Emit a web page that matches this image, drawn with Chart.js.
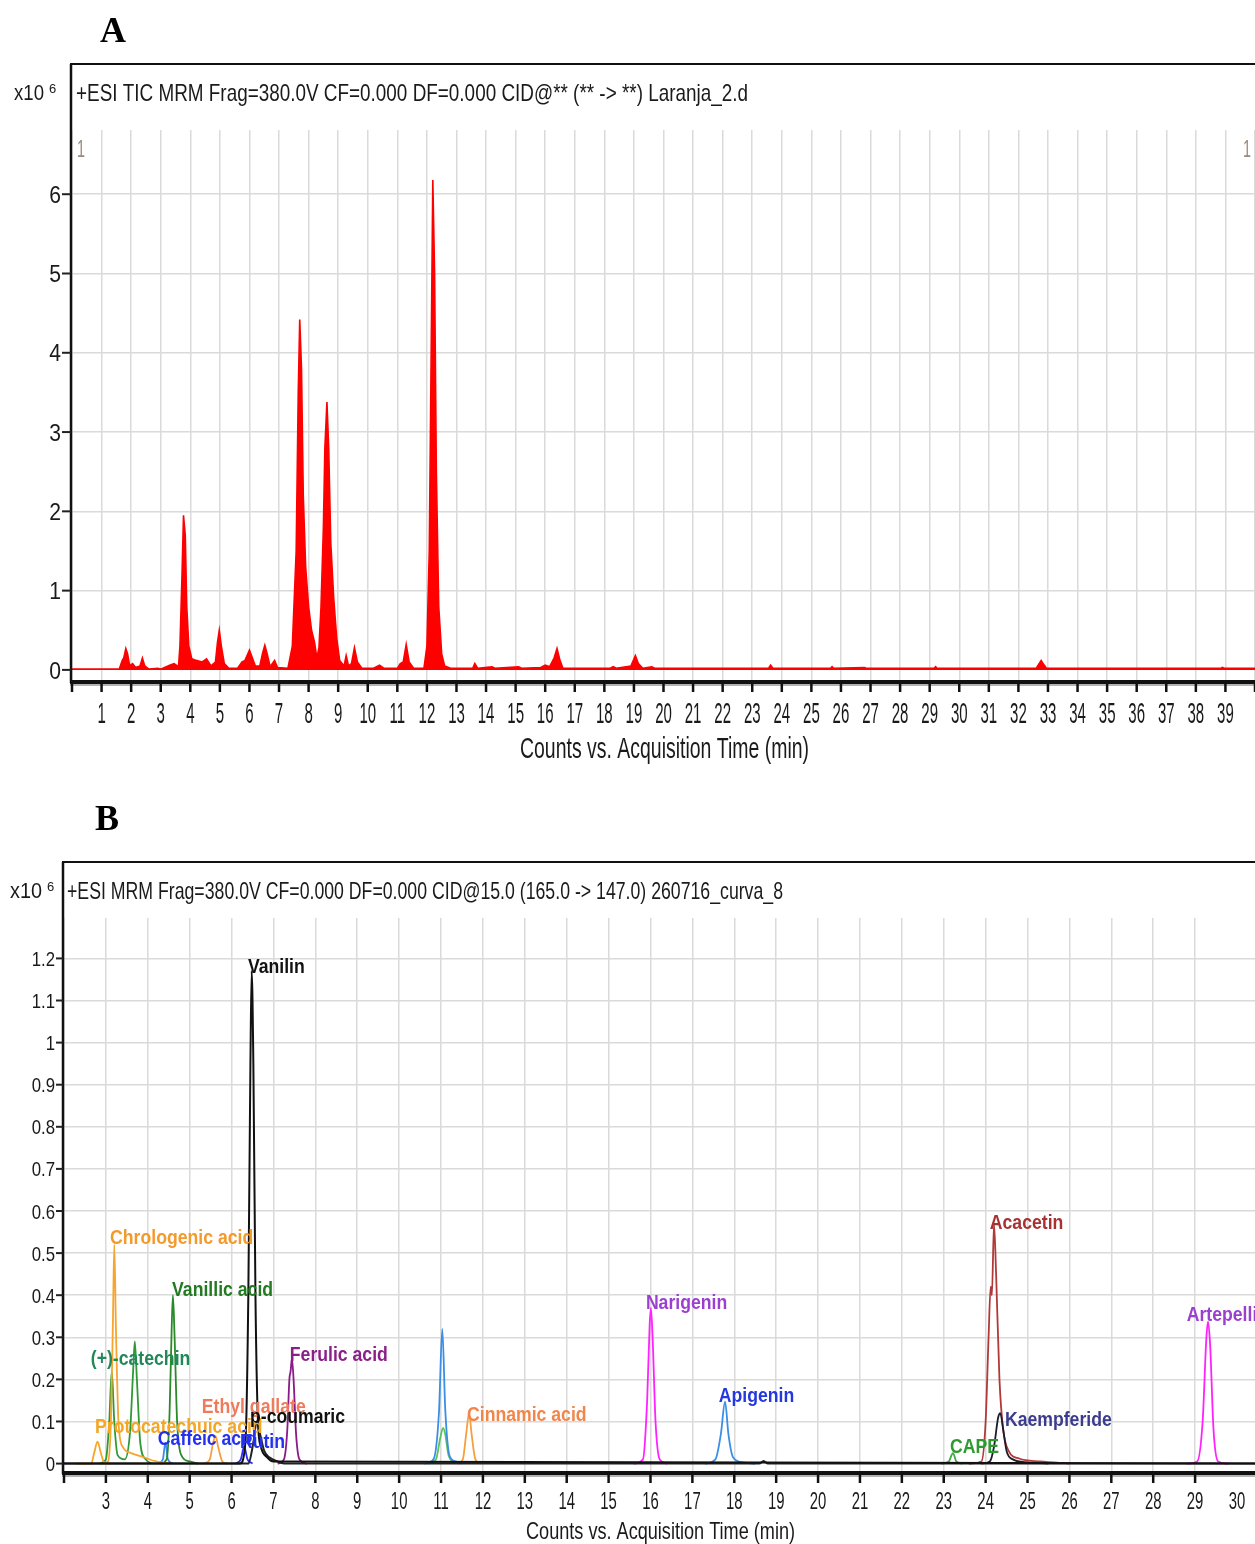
<!DOCTYPE html>
<html>
<head>
<meta charset="utf-8">
<script src="https://cdn.jsdelivr.net/npm/chart.js@4.4.1/dist/chart.umd.min.js"></script>
<style>
  html, body { margin: 0; padding: 0; background: #fff; }
  body { width: 1255px; height: 1544px; position: relative; overflow: hidden; }
  canvas { position: absolute; left: 0; }
  #chartA { top: 0; }
  #chartB { top: 780px; }
</style>
</head>
<body>
<canvas id="chartA" width="1255" height="780"></canvas>
<canvas id="chartB" width="1255" height="764"></canvas>
<script>
// ---- data: panel A (TIC, x10^6 counts vs min) ----
const ticPoints = [
  [0, 0.01], [1.6, 0.01], [1.7, 0.12], [1.75, 0.15], [1.82, 0.27], [1.88, 0.2], [1.95, 0.05],
  [2.05, 0.08], [2.15, 0.03], [2.3, 0.05], [2.38, 0.15], [2.46, 0.05], [2.6, 0.01], [2.9, 0.02],
  [3.0, 0.01], [3.3, 0.06], [3.45, 0.08], [3.6, 0.04], [3.65, 0.3], [3.72, 1.2], [3.77, 1.95],
  [3.83, 1.7], [3.88, 0.8], [3.95, 0.3], [4.05, 0.14], [4.2, 0.12], [4.4, 0.1], [4.55, 0.14],
  [4.7, 0.05], [4.85, 0.1], [4.92, 0.35], [4.98, 0.5], [5.05, 0.3], [5.15, 0.08], [5.3, 0.02],
  [5.6, 0.02], [5.75, 0.1], [5.85, 0.12], [6.0, 0.25], [6.1, 0.15], [6.2, 0.05], [6.35, 0.05],
  [6.45, 0.22], [6.52, 0.31], [6.6, 0.2], [6.7, 0.04], [6.85, 0.12], [6.95, 0.03], [7.3, 0.02],
  [7.45, 0.3], [7.58, 1.5], [7.65, 3.5], [7.7, 4.42], [7.76, 3.8], [7.82, 2.2], [7.9, 1.3],
  [8.0, 0.8], [8.1, 0.5], [8.2, 0.35], [8.28, 0.15], [8.35, 0.28], [8.42, 0.8], [8.5, 1.8],
  [8.55, 2.8], [8.62, 3.38], [8.68, 2.8], [8.75, 1.6], [8.85, 0.9], [8.95, 0.4], [9.05, 0.12],
  [9.2, 0.05], [9.27, 0.18], [9.35, 0.05], [9.45, 0.08], [9.55, 0.28], [9.65, 0.1], [9.8, 0.02],
  [10.2, 0.02], [10.4, 0.06], [10.55, 0.02], [11.0, 0.02], [11.1, 0.08], [11.2, 0.1], [11.3, 0.32],
  [11.4, 0.1], [11.55, 0.02], [11.9, 0.02], [12.0, 0.3], [12.08, 1.5], [12.15, 4.2], [12.2, 6.18],
  [12.26, 5.0], [12.32, 2.5], [12.4, 0.8], [12.5, 0.2], [12.6, 0.05], [12.8, 0.02], [13.55, 0.02],
  [13.62, 0.08], [13.72, 0.02], [14.2, 0.04], [14.3, 0.02], [15.1, 0.04], [15.2, 0.02], [15.85, 0.03],
  [16.0, 0.06], [16.15, 0.04], [16.3, 0.15], [16.4, 0.27], [16.5, 0.12], [16.6, 0.02], [18.2, 0.02],
  [18.3, 0.04], [18.4, 0.02], [18.9, 0.05], [19.05, 0.18], [19.15, 0.08], [19.3, 0.02], [19.6, 0.04],
  [19.7, 0.02], [23.55, 0.02], [23.62, 0.06], [23.7, 0.02], [25.65, 0.02], [25.7, 0.04], [25.75, 0.02],
  [26.8, 0.03], [26.85, 0.02], [29.15, 0.02], [29.2, 0.04], [29.25, 0.02], [32.6, 0.02], [32.7, 0.08],
  [32.77, 0.12], [32.85, 0.07], [32.95, 0.02], [38.85, 0.02], [38.9, 0.03], [38.95, 0.02], [40, 0.02]
]
const xTicksA = [1, 2, 3, 4, 5, 6, 7, 8, 9, 10, 11, 12, 13, 14, 15, 16, 17, 18, 19, 20,
  21, 22, 23, 24, 25, 26, 27, 28, 29, 30, 31, 32, 33, 34, 35, 36, 37, 38, 39]
const yTicksA = [0, 1, 2, 3, 4, 5, 6]

// ---- data: panel B (MRM standards) ----
const vanilinPts = [[2, 0], [6.2, 0], [6.33, 0.05], [6.4, 0.4], [6.45, 0.95], [6.48, 1.17], [6.52, 0.95],
  [6.57, 0.4], [6.63, 0.1], [6.7, 0.04], [6.85, 0.015], [7.0, 0.005], [30.43, 0]]
const coumaricPts = [[2, 0], [6.4, 0], [6.52, 0.05], [6.6, 0.1], [6.68, 0.07], [6.78, 0.03], [6.9, 0.015],
  [7.1, 0.005], [7.3, 0], [18.6, 0], [18.7, 0.006], [18.8, 0], [30.43, 0]]
const kaempferidePts = [[23.9, 0], [24.1, 0.005], [24.2, 0.04], [24.3, 0.11], [24.35, 0.12], [24.42, 0.08],
  [24.5, 0.03], [24.65, 0.01], [25.0, 0.003], [25.5, 0]]
const protocatechuicPts = [[2.3, 0], [2.65, 0], [2.72, 0.025], [2.8, 0.052], [2.88, 0.025], [2.96, 0.003], [3.1, 0]]
const chrologenicPts = [[2.9, 0], [3.05, 0.005], [3.12, 0.1], [3.17, 0.35], [3.2, 0.52], [3.24, 0.32], [3.3, 0.1],
  [3.4, 0.04], [3.6, 0.025], [3.9, 0.015], [4.2, 0.005], [4.5, 0]]
const catechinPts = [[2.85, 0], [3.0, 0.01], [3.08, 0.1], [3.14, 0.22], [3.2, 0.1], [3.28, 0.02], [3.45, 0.01],
  [3.58, 0.08], [3.65, 0.22], [3.69, 0.29], [3.74, 0.2], [3.82, 0.05], [3.95, 0.01], [4.1, 0]]
const vanillicPts = [[4.3, 0], [4.45, 0.01], [4.52, 0.12], [4.57, 0.32], [4.6, 0.4], [4.64, 0.3], [4.7, 0.1],
  [4.8, 0.02], [5.0, 0.005], [5.2, 0]]
const caffeicPts = [[4.25, 0], [4.36, 0.01], [4.42, 0.05], [4.48, 0.01], [4.6, 0]]
const ethylGallatePts = [[5.35, 0], [5.48, 0.01], [5.56, 0.05], [5.62, 0.065], [5.68, 0.04], [5.78, 0.005], [5.9, 0]]
const rutinPts = [[6.1, 0], [6.22, 0.01], [6.3, 0.04], [6.38, 0.01], [6.5, 0]]
const ferulicPts = [[7.1, 0], [7.25, 0.01], [7.33, 0.08], [7.38, 0.2], [7.41, 0.22], [7.44, 0.25], [7.48, 0.2],
  [7.54, 0.07], [7.62, 0.01], [7.8, 0]]
const unknownBluePts = [[10.6, 0], [10.82, 0.01], [10.95, 0.12], [11.03, 0.32], [11.1, 0.13], [11.2, 0.02],
  [11.35, 0.005], [11.5, 0]]
const unknownGreenPts = [[10.7, 0], [10.88, 0.01], [10.98, 0.06], [11.05, 0.085], [11.1, 0.07], [11.18, 0.02], [11.35, 0]]
const cinnamicPts = [[11.4, 0], [11.52, 0.01], [11.6, 0.07], [11.67, 0.12], [11.73, 0.07], [11.82, 0.01], [11.95, 0]]
const narigeninPts = [[15.6, 0], [15.82, 0.01], [15.92, 0.15], [15.98, 0.33], [16.01, 0.37], [16.05, 0.3],
  [16.12, 0.1], [16.22, 0.01], [16.4, 0]]
const apigeninPts = [[17.3, 0], [17.55, 0.01], [17.68, 0.07], [17.78, 0.147], [17.86, 0.07], [17.97, 0.015],
  [18.2, 0.003], [18.5, 0]]
const capePts = [[22.95, 0], [23.12, 0.005], [23.22, 0.025], [23.3, 0.005], [23.45, 0]]
const acacetinPts = [[23.6, 0], [23.9, 0.005], [24.0, 0.1], [24.07, 0.3], [24.12, 0.42], [24.15, 0.4], [24.2, 0.57],
  [24.25, 0.45], [24.33, 0.2], [24.42, 0.08], [24.55, 0.03], [24.8, 0.012], [25.3, 0.005], [26.0, 0]]
const artepillinPts = [[28.8, 0], [29.05, 0.005], [29.18, 0.1], [29.27, 0.3], [29.31, 0.337], [29.36, 0.28],
  [29.44, 0.08], [29.55, 0.005], [29.8, 0]]

const xTicksB = [3, 4, 5, 6, 7, 8, 9, 10, 11, 12, 13, 14, 15, 16, 17, 18, 19, 20,
  21, 22, 23, 24, 25, 26, 27, 28, 29, 30]
const yTicksB = [0, 0.1, 0.2, 0.3, 0.4, 0.5, 0.6, 0.7, 0.8, 0.9, 1, 1.1, 1.2]

// peak names, anchored at (time, height) of the text's left/middle
const peakLabels = [
  ['Vanilin', 6.39, 1.182, '#111111'],
  ['Chrologenic acid', 3.10, 0.540, '#f39a2c'],
  ['Vanillic acid', 4.58, 0.417, '#237a23'],
  ['(+)-catechin', 2.64, 0.253, '#23875a'],
  ['Ferulic acid', 7.39, 0.262, '#8a1f8a'],
  ['Ethyl gallate', 5.29, 0.137, '#f07a5c'],
  ['Protocatechuic acid', 2.74, 0.091, '#f5a623'],
  ['p-coumaric', 6.44, 0.115, '#111111'],
  ['Caffeic acid', 4.24, 0.063, '#2430f0'],
  ['Rutin', 6.20, 0.056, '#2430f0'],
  ['Cinnamic acid', 11.62, 0.120, '#f2854a'],
  ['Narigenin', 15.89, 0.384, '#9b3fd0'],
  ['Apigenin', 17.63, 0.165, '#2438e0'],
  ['CAPE', 23.15, 0.042, '#2f9a2f'],
  ['Acacetin', 24.10, 0.574, '#a83232'],
  ['Kaempferide', 24.46, 0.106, '#3c3c8e'],
  ['Artepellin C', 28.80, 0.357, '#9b3fd0']
]

const SANS = '"Liberation Sans", Arial, sans-serif'
const SERIF = '"Liberation Serif", "Times New Roman", serif'
const GRID = '#dadada'

const toXY = pts => pts.map(p => ({ x: p[0], y: p[1] }))

// draw text, optionally squeezed horizontally (sx) or fitted to a width
function drawText(ctx, text, px, py, o) {
  ctx.save()
  ctx.font = (o.bold ? 'bold ' : '') + o.size + 'px ' + (o.family || SANS)
  const raw = ctx.measureText(text).width
  const sx = o.width ? o.width / raw : (o.sx || 1)
  const w = raw * sx
  let left = px
  if (o.align === 'center') left = px - w / 2
  if (o.align === 'right') left = px - w
  ctx.translate(left, py)
  ctx.scale(sx, 1)
  ctx.fillStyle = o.color || '#1a1a1a'
  ctx.textAlign = 'left'
  ctx.textBaseline = 'alphabetic'
  ctx.fillText(text, 0, 0)
  ctx.restore()
}

function line(ctx, x1, y1, x2, y2, w, color) {
  ctx.beginPath()
  ctx.moveTo(x1, y1)
  ctx.lineTo(x2, y2)
  ctx.lineWidth = w
  ctx.strokeStyle = color
  ctx.stroke()
}

const decor = {
  id: 'decor',
  afterDraw(chart, args, d) {
    const { ctx, chartArea: a, scales: { x, y } } = chart
    ctx.save()
    // panel letter
    drawText(ctx, d.letter[0], d.letter[1], d.letter[2], { size: 36, bold: true, family: SERIF, color: '#000' })
    // frame
    line(ctx, d.frameLeft - 1, d.frameTop, a.right, d.frameTop, 2, '#111')
    line(ctx, d.frameLeft, d.frameTop, d.frameLeft, a.bottom + 2, 2.5, '#111')
    // x axis
    line(ctx, d.frameLeft - 1, a.bottom + 1, a.right, a.bottom + 1, 4, '#111')
    line(ctx, d.frameLeft - 1, a.bottom + 4, a.right, a.bottom + 4, 1.5, '#9a9a9a')
    // title row
    drawText(ctx, 'x10', d.x10[0], d.x10[1], { size: d.x10[2], width: d.x10[3] })
    drawText(ctx, '6', d.x10[0] + d.x10[3] + 5, d.x10[1] - 7, { size: 13 })
    drawText(ctx, d.title, d.titlePos[0], d.titlePos[1], { size: d.titlePos[2], width: d.titlePos[3] })
    if (d.ones) {
      drawText(ctx, '1', a.left + 5, a.top + 27, { size: 24, sx: 0.6, color: '#9a8878' })
      drawText(ctx, '1', a.right - 12, a.top + 27, { size: 24, sx: 0.6, color: '#9a8878' })
    }
    // y ticks + labels
    d.yTicks.forEach(v => {
      const py = y.getPixelForValue(v)
      line(ctx, d.yLab[0] + 1, py, d.frameLeft, py, 2, '#222')
      drawText(ctx, String(v), d.yLab[0], py + d.yLab[1] * 0.36, { size: d.yLab[1], sx: d.yLab[2], align: 'right' })
    })
    // x ticks + labels
    x.ticks.forEach(t => {
      if (!Number.isInteger(t.value)) return
      const px = x.getPixelForValue(t.value)
      if (px < a.left + 2 && t.value !== d.xMin) return
      line(ctx, px, a.bottom + 3, px, a.bottom + 11, 2.5, '#111')
    })
    d.xTicks.forEach(v => {
      const px = x.getPixelForValue(v)
      drawText(ctx, String(v), px, d.xLab[0], { size: d.xLab[1], sx: d.xLab[2], align: 'center' })
    })
    drawText(ctx, 'Counts vs. Acquisition Time (min)', d.xTitle[0], d.xTitle[1], { size: d.xTitle[2], width: d.xTitle[3] })
    // peak names
    ;(d.labels || []).forEach(l => {
      const px = x.getPixelForValue(l[1])
      const py = y.getPixelForValue(l[2])
      drawText(ctx, l[0], px, py + 7.5, { size: 21, bold: true, sx: 0.84, color: l[3] })
    })
    ctx.restore()
  }
}

const gridColor = step => c => {
  const v = c.tick.value / step
  return Math.abs(v - Math.round(v)) < 1e-6 && c.tick.value > -1e-9 ? GRID : 'rgba(0,0,0,0)'
}

function baseOptions(o) {
  return {
    responsive: false,
    animation: false,
    devicePixelRatio: 1,
    layout: { padding: { top: o.top, left: 0, right: 0, bottom: 0 } },
    elements: { point: { radius: 0 } },
    plugins: { legend: { display: false }, tooltip: { enabled: false }, decor: o.decor },
    scales: {
      x: {
        type: 'linear', min: o.xMin, max: o.xMax,
        ticks: { stepSize: 1, display: false },
        grid: { color: gridColor(1), lineWidth: 1.5, drawTicks: false },
        border: { display: false },
        afterFit: s => { s.height = o.bottomH }
      },
      y: {
        type: 'linear', min: o.yMin, max: o.yMax,
        ticks: { stepSize: o.yStep, display: false },
        grid: { color: gridColor(o.yStep), lineWidth: 1.5, drawTicks: false },
        border: { display: false },
        afterFit: s => { s.width = o.leftW }
      }
    }
  }
}

new Chart(document.getElementById('chartA'), {
  type: 'line',
  data: {
    datasets: [{
      data: toXY(ticPoints),
      borderColor: '#ff0000',
      backgroundColor: '#ff0000',
      borderWidth: 1.6,
      fill: 'origin',
      tension: 0
    }]
  },
  options: baseOptions({
    top: 130, leftW: 72, bottomH: 99,
    xMin: 0, xMax: 40, yMin: -0.14, yMax: 6.81, yStep: 1,
    decor: {
      letter: ['A', 100, 42],
      frameTop: 64, frameLeft: 71, xMin: 0,
      x10: [14, 100, 22, 30],
      title: '+ESI TIC MRM Frag=380.0V CF=0.000 DF=0.000 CID@** (** -> **) Laranja_2.d',
      titlePos: [76, 101, 24, 672],
      ones: true,
      yTicks: yTicksA, yLab: [61, 24, 0.88],
      xTicks: xTicksA, xLab: [723, 30, 0.5],
      xTitle: [520, 758, 30, 289]
    }
  }),
  plugins: [decor]
})

const traces = [
  [vanilinPts, '#111111', 2],
  [coumaricPts, '#222222', 2],
  [kaempferidePts, '#1c1c2c', 1.8],
  [protocatechuicPts, '#f5a623', 1.8],
  [chrologenicPts, '#f7a52e', 1.8],
  [catechinPts, '#2f9a35', 1.8],
  [vanillicPts, '#2a8a2a', 1.8],
  [caffeicPts, '#3d8ee8', 1.8],
  [ethylGallatePts, '#f5a040', 1.8],
  [rutinPts, '#2b2bff', 1.8],
  [ferulicPts, '#8b1a8b', 1.8],
  [unknownBluePts, '#3a8ee6', 1.8],
  [unknownGreenPts, '#5cc05c', 1.8],
  [cinnamicPts, '#f5a040', 1.8],
  [narigeninPts, '#ff22ff', 1.8],
  [apigeninPts, '#3a8ee6', 1.8],
  [capePts, '#44aa44', 1.8],
  [acacetinPts, '#b03a3a', 1.8],
  [artepillinPts, '#ff22ff', 1.8]
]

new Chart(document.getElementById('chartB'), {
  type: 'line',
  data: {
    datasets: traces.map(t => ({
      data: toXY(t[0]),
      borderColor: t[1],
      borderWidth: t[2],
      fill: false,
      cubicInterpolationMode: 'monotone'
    }))
  },
  options: baseOptions({
    top: 138, leftW: 64, bottomH: 72,
    xMin: 2, xMax: 30.43, yMin: -0.02, yMax: 1.296, yStep: 0.1,
    decor: {
      letter: ['B', 95, 50],
      frameTop: 82, frameLeft: 63, xMin: 2,
      x10: [10, 118, 22, 32],
      title: '+ESI MRM Frag=380.0V CF=0.000 DF=0.000 CID@15.0 (165.0 -> 147.0) 260716_curva_8',
      titlePos: [67, 119, 24, 716],
      ones: false,
      yTicks: yTicksB, yLab: [55, 21, 0.8],
      xTicks: xTicksB, xLab: [729, 24, 0.62],
      xTitle: [526, 759, 24, 269],
      labels: peakLabels
    }
  }),
  plugins: [decor]
})
</script>
</body>
</html>
